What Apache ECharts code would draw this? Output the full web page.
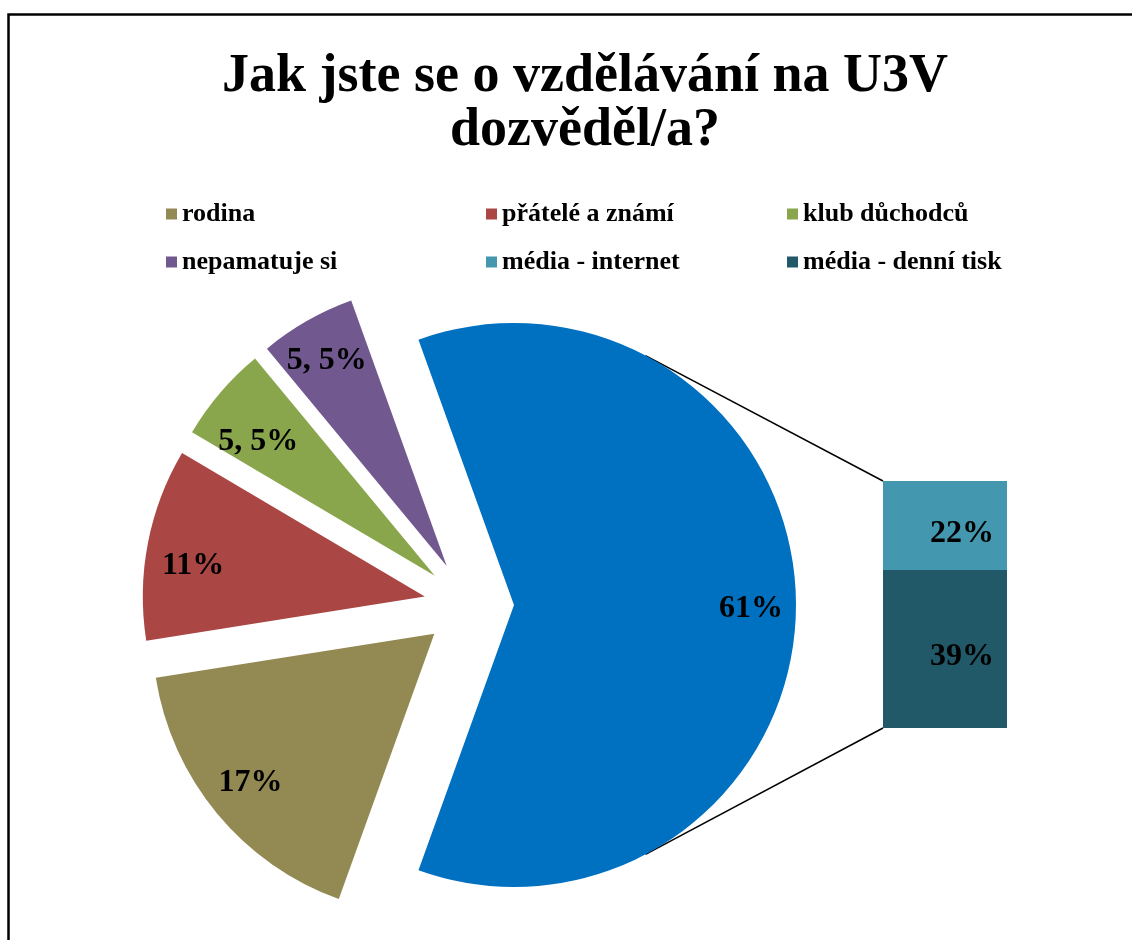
<!DOCTYPE html>
<html>
<head>
<meta charset="utf-8">
<title>Jak jste se o vzdělávání na U3V dozvěděl/a?</title>
<script src="https://cdn.jsdelivr.net/npm/echarts@6/dist/echarts.min.js"></script>
<style>
  html, body { margin: 0; padding: 0; background: #fff; }
  #chart { width: 1132px; height: 940px; }
</style>
</head>
<body>
<div id="chart"></div>
<script>
// data
const pieNames = ["ostatní", "rodina", "přátelé a známí", "klub důchodců", "nepamatuje si"];
const pieValues = [61, 17, 11, 5.5, 5.5];
const pieColors = ["#0070C0", "#938953", "#AA4643", "#8AA64C", "#71588F"];
const barNames = ["média - denní tisk", "média - internet"];
const barValues = [39, 22];
const barColors = ["#215968", "#4398AF"];

// layout
const serif = '"Times New Roman", "Liberation Serif", serif';
const cx = 469, cy = 605, R = 282, explode = 45;
const barBox = { left: 883, top: 481, width: 124, height: 247 };
const connAngle = 62.2 * Math.PI / 180; // where the joining lines leave the arc
// small nudges so the labels sit where Excel put them
const labelNudge = [[-3, 4], [1, -4], [4, 14], [6, 22], [-1, 3]];

const chart = echarts.init(document.getElementById("chart"));

const fmtPct = v => String(v).replace(".", ", ") + "%";
const pieData = pieNames.map((n, i) => ({
  name: n, value: pieValues[i], selected: true,
  itemStyle: { color: pieColors[i] }
}));
// same slices, invisible, only to put the labels further out
const labelData = pieNames.map((n, i) => ({
  name: n, value: pieValues[i], selected: true,
  itemStyle: { color: "rgba(0,0,0,0)" }
}));

const bx = cx + explode; // blue slice apex (exploded to the right)
const p1 = [bx + R * Math.cos(connAngle), cy - R * Math.sin(connAngle)];
const p2 = [bx + R * Math.cos(connAngle), cy + R * Math.sin(connAngle)];

const legendBase = {
  orient: "vertical",
  top: 201,
  padding: 0,
  itemWidth: 11,
  itemHeight: 11,
  itemGap: 22,
  icon: "rect",
  selectedMode: false,
  textStyle: { fontFamily: serif, fontWeight: "bold", fontSize: 26, lineHeight: 26, color: "#000" }
};

const barLabel = {
  show: true, position: "insideRight", distance: 13, offset: [0, 8], formatter: "{c}%",
  fontFamily: serif, fontWeight: "bold", fontSize: 32, color: "#000"
};

chart.setOption({
  animation: false,
  backgroundColor: "#fff",
  title: {
    text: "Jak jste se o vzdělávání na U3V\ndozvěděl/a?",
    left: 580,
    top: 45,
    textAlign: "center",
    textStyle: { fontFamily: serif, fontWeight: "bold", fontSize: 54, lineHeight: 54, color: "#000" }
  },
  legend: [
    Object.assign({}, legendBase, { left: 166, data: ["rodina", "nepamatuje si"] }),
    Object.assign({}, legendBase, { left: 486, data: ["přátelé a známí", "média - internet"] }),
    Object.assign({}, legendBase, { left: 787, data: ["klub důchodců", "média - denní tisk"] })
  ],
  grid: { left: barBox.left, top: barBox.top, width: barBox.width, height: barBox.height },
  xAxis: { type: "category", data: [""], show: false },
  yAxis: { type: "value", min: 0, max: 61, show: false },
  graphic: [
    { type: "rect", shape: { x: 8.5, y: 14.5, width: 1300, height: 1100 },
      style: { fill: null, stroke: "#000", lineWidth: 2.5 }, z: 100 },
    { type: "line", shape: { x1: p1[0], y1: p1[1], x2: barBox.left, y2: barBox.top },
      style: { stroke: "#000", lineWidth: 1.5 } },
    { type: "line", shape: { x1: p2[0], y1: p2[1], x2: barBox.left, y2: barBox.top + barBox.height },
      style: { stroke: "#000", lineWidth: 1.5 } }
  ],
  series: [
    {
      name: "pie",
      type: "pie",
      center: [cx, cy],
      radius: [0, R],
      startAngle: 109.8,
      clockwise: true,
      selectedMode: "multiple",
      selectedOffset: explode,
      silent: true,
      emphasis: { disabled: true },
      label: { show: false },
      labelLine: { show: false },
      data: pieData
    },
    {
      name: "pieLabels",
      type: "pie",
      center: [cx, cy],
      radius: [192, R],
      startAngle: 109.8,
      clockwise: true,
      selectedMode: "multiple",
      selectedOffset: explode,
      silent: true,
      emphasis: { disabled: true },
      label: {
        show: true, position: "inside",
        formatter: p => fmtPct(p.value),
        fontFamily: serif, fontWeight: "bold", fontSize: 32, color: "#000"
      },
      labelLayout: p => ({ dx: labelNudge[p.dataIndex][0], dy: labelNudge[p.dataIndex][1] }),
      labelLine: { show: false },
      data: labelData
    },
    {
      name: barNames[0], type: "bar", stack: "m", barWidth: "100%",
      itemStyle: { color: barColors[0] },
      label: barLabel,
      data: [barValues[0]]
    },
    {
      name: barNames[1], type: "bar", stack: "m", barWidth: "100%",
      itemStyle: { color: barColors[1] },
      label: barLabel,
      data: [barValues[1]]
    }
  ]
});
</script>
</body>
</html>
